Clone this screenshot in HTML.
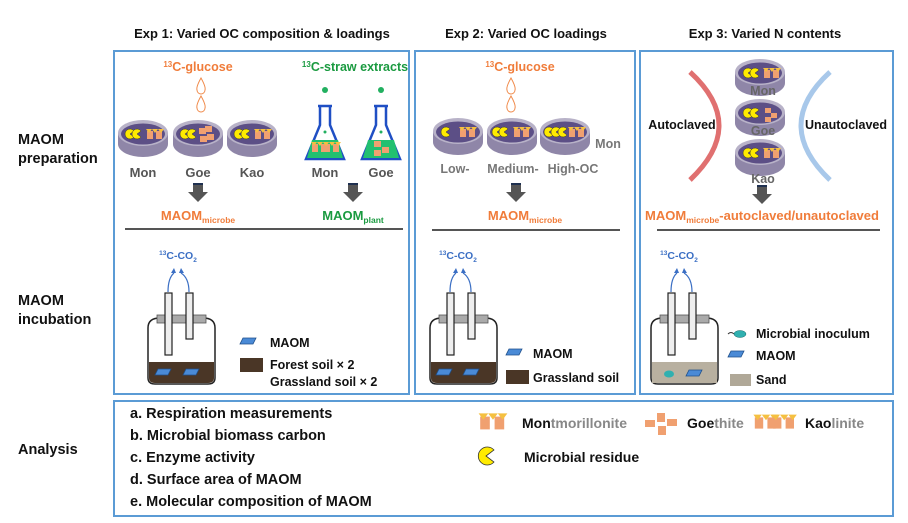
<!DOCTYPE html>
<html><head><meta charset="utf-8"><style>
body{margin:0;background:#fff}
svg{display:block;font-family:"Liberation Sans",Arial,sans-serif;font-weight:bold}
</style></head><body>
<svg width="908" height="523" viewBox="0 0 908 523" xmlns="http://www.w3.org/2000/svg">
<defs>
  <g id="dish">
    <path d="M-25,0 L-25,11 A25,13 0 0 0 25,11 L25,0 Z" fill="#8f86a8"/>
    <ellipse cx="0" cy="0" rx="25" ry="13" fill="#b8b2c8"/>
    <ellipse cx="0" cy="1" rx="22" ry="10.5" fill="#5c4f86"/>
  </g>
  <g id="pac"><path d="M0,0 L4,-3 A5,5 0 1 0 4,3 Z" fill="#ffeb00" stroke="#333" stroke-width="0.5"/></g>
  <g id="clay">
    <rect x="-8" y="-4" width="6" height="8" fill="#f0a070"/><rect x="1" y="-4" width="6" height="8" fill="#f0a070"/>
    <path d="M-9,-6 l3,4 l3,-4 M-3,-6 l3,4 l3,-4 M3,-6 l3,4 l3,-4" fill="#f5c040"/>
  </g>
  <g id="jar">
    <path d="M0,12 Q0,2 12,2 L55,2 Q67,2 67,12 L67,62 Q67,68 60,68 L7,68 Q0,68 0,62 Z" fill="#fff" stroke="#222" stroke-width="1.5"/>
    <path d="M1,46 L66,46 L66,62 Q66,67 60,67 L7,67 Q1,67 1,62 Z" fill="#4a3626"/>
    <rect x="9" y="-1" width="49" height="8" fill="#aaa" stroke="#555" stroke-width="0.8"/>
    <rect x="17" y="-23" width="7" height="62" fill="#eee" stroke="#222" stroke-width="1.2"/>
    <rect x="38" y="-23" width="7" height="46" fill="#eee" stroke="#222" stroke-width="1.2"/>
    <path d="M20,-24 Q20,-38 26,-43 M41,-24 Q41,-38 33,-43" fill="none" stroke="#3b6fc4" stroke-width="1.2"/>
    <path d="M26,-48 l-3,5 l5,0 Z M33,-48 l-2,5 l5,0 Z" fill="#3b6fc4"/>
  </g>
  <g id="maom"><path d="M3,0 L16,0 L13,6 L0,6 Z" fill="#4a8ad6" stroke="#1f4f8a" stroke-width="0.8"/></g>
  <g id="arrow"><rect x="-5" y="0" width="10" height="9" fill="#555"/><rect x="-5" y="0" width="10" height="2" fill="#1f3050"/><path d="M-10,9 L10,9 L0,19 Z" fill="#555"/></g>
  <g id="drop"><path d="M0,0 Q-5,9 -4,12 A4,4 0 0 0 4,12 Q5,9 0,0 Z" fill="none" stroke="#f08a4a" stroke-width="1"/></g>
</defs>

<!-- titles -->
<text x="262" y="38" font-size="13" text-anchor="middle" fill="#111">Exp 1: Varied OC composition &amp; loadings</text>
<text x="526" y="38" font-size="13" text-anchor="middle" fill="#111">Exp 2: Varied OC loadings</text>
<text x="765" y="38" font-size="13" text-anchor="middle" fill="#111">Exp 3: Varied N contents</text>
<text x="18" y="144" font-size="14.5" fill="#111">MAOM</text>
<text x="18" y="163" font-size="14.5" fill="#111">preparation</text>
<text x="18" y="305" font-size="14.5" fill="#111">MAOM</text>
<text x="18" y="324" font-size="14.5" fill="#111">incubation</text>
<text x="18" y="454" font-size="14.5" fill="#111">Analysis</text>

<!-- boxes -->
<g fill="none" stroke="#5b9bd5" stroke-width="2">
<rect x="114" y="51" width="295" height="343"/>
<rect x="415" y="51" width="220" height="343"/>
<rect x="640" y="51" width="253" height="343"/>
<rect x="114" y="401" width="779" height="115"/>
</g>

<!-- Exp1 -->
<text x="198" y="71" font-size="12.5" text-anchor="middle" fill="#f07c3a"><tspan font-size="8" dy="-4">13</tspan><tspan dy="4">C-glucose</tspan></text>
<use href="#drop" x="201" y="78"/><use href="#drop" x="201" y="96"/>
<use href="#dish" x="143" y="133"/><use href="#dish" x="198" y="133"/><use href="#dish" x="252" y="133"/>
<use href="#pac" x="130" y="134"/><use href="#pac" x="137" y="134"/><use href="#clay" x="155" y="135"/>
<use href="#pac" x="185" y="134"/><use href="#pac" x="192" y="134"/>
<g fill="#f0a070"><rect x="199" y="128" width="7" height="6"/><rect x="207" y="134" width="7" height="6"/><rect x="205" y="126" width="7" height="6"/><rect x="200" y="136" width="7" height="6"/></g>
<use href="#pac" x="239" y="134"/><use href="#pac" x="246" y="134"/><use href="#clay" x="263" y="135"/>
<text x="143" y="177" font-size="13" text-anchor="middle" fill="#555">Mon</text>
<text x="198" y="177" font-size="13" text-anchor="middle" fill="#555">Goe</text>
<text x="252" y="177" font-size="13" text-anchor="middle" fill="#555">Kao</text>
<use href="#arrow" x="198" y="183"/>
<text x="198" y="220" font-size="13" text-anchor="middle" fill="#f07c3a">MAOM<tspan font-size="8.5" dy="3">microbe</tspan></text>

<text x="355" y="71" font-size="12.5" text-anchor="middle" fill="#1a9a40"><tspan font-size="8" dy="-4">13</tspan><tspan dy="4">C-straw extracts</tspan></text>
<circle cx="325" cy="90" r="3" fill="#22b060"/><circle cx="381" cy="90" r="3" fill="#22b060"/>
<g stroke="#1f4fc4" stroke-width="2.5" fill="#fff">
<path d="M318,106 L332,106 M320,106 L320,125 L306,159 L344,159 L330,125 L330,106" fill="#fff"/>
<path d="M374,106 L388,106 M376,106 L376,125 L362,159 L400,159 L386,125 L386,106"/>
</g>
<path d="M312,140 L338,140 L343,158 L307,158 Z" fill="#22c070"/>
<path d="M368,140 L394,140 L399,158 L363,158 Z" fill="#22c070"/>
<circle cx="325" cy="132" r="1.5" fill="#22b060"/><circle cx="381" cy="132" r="1.5" fill="#22b060"/>
<use href="#clay" x="320" y="148"/><use href="#clay" x="332" y="148"/>
<g fill="#f0a070"><rect x="374" y="141" width="7" height="6"/><rect x="382" y="147" width="7" height="6"/><rect x="374" y="150" width="7" height="6"/></g>
<text x="325" y="177" font-size="13" text-anchor="middle" fill="#555">Mon</text>
<text x="381" y="177" font-size="13" text-anchor="middle" fill="#555">Goe</text>
<use href="#arrow" x="353" y="183"/>
<text x="353" y="220" font-size="13" text-anchor="middle" fill="#1a9a40">MAOM<tspan font-size="8.5" dy="3">plant</tspan></text>
<rect x="125" y="228" width="278" height="2" fill="#555"/>

<text x="178" y="259" font-size="10.5" text-anchor="middle" fill="#3b6fc4"><tspan font-size="6.5" dy="-4">13</tspan><tspan dy="4">C-CO</tspan><tspan font-size="6.5" dy="3">2</tspan></text>
<use href="#jar" x="148" y="316"/>
<use href="#maom" x="155" y="369"/><use href="#maom" x="183" y="369"/>
<use href="#maom" x="240" y="338"/>
<text x="270" y="347" font-size="12.5" fill="#111">MAOM</text>
<rect x="240" y="358" width="23" height="14" fill="#4a3626"/>
<text x="270" y="369" font-size="12.5" fill="#111">Forest soil × 2</text>
<text x="270" y="386" font-size="12.5" fill="#111">Grassland soil × 2</text>

<!-- Exp2 -->
<text x="520" y="71" font-size="12.5" text-anchor="middle" fill="#f07c3a"><tspan font-size="8" dy="-4">13</tspan><tspan dy="4">C-glucose</tspan></text>
<use href="#drop" x="511" y="78"/><use href="#drop" x="511" y="96"/>
<use href="#dish" x="458" y="131"/><use href="#dish" x="512" y="131"/><use href="#dish" x="565" y="131"/>
<use href="#pac" x="446" y="132"/><use href="#clay" x="468" y="133"/>
<use href="#pac" x="497" y="132"/><use href="#pac" x="504" y="132"/><use href="#clay" x="522" y="133"/>
<use href="#pac" x="549" y="132"/><use href="#pac" x="556" y="132"/><use href="#pac" x="563" y="132"/><use href="#clay" x="577" y="133"/>
<text x="608" y="148" font-size="12.5" text-anchor="middle" fill="#777">Mon</text>
<text x="455" y="173" font-size="12.5" text-anchor="middle" fill="#777">Low-</text>
<text x="513" y="173" font-size="12.5" text-anchor="middle" fill="#777">Medium-</text>
<text x="573" y="173" font-size="12.5" text-anchor="middle" fill="#777">High-OC</text>
<use href="#arrow" x="516" y="183"/>
<text x="525" y="220" font-size="13" text-anchor="middle" fill="#f07c3a">MAOM<tspan font-size="8.5" dy="3">microbe</tspan></text>
<rect x="432" y="229" width="188" height="2" fill="#555"/>
<text x="458" y="259" font-size="10.5" text-anchor="middle" fill="#3b6fc4"><tspan font-size="6.5" dy="-4">13</tspan><tspan dy="4">C-CO</tspan><tspan font-size="6.5" dy="3">2</tspan></text>
<use href="#jar" x="430" y="316"/>
<use href="#maom" x="436" y="369"/><use href="#maom" x="463" y="369"/>
<use href="#maom" x="506" y="349"/>
<text x="533" y="358" font-size="12.5" fill="#111">MAOM</text>
<rect x="506" y="370" width="23" height="14" fill="#4a3626"/>
<text x="533" y="382" font-size="12.5" fill="#111">Grassland soil</text>

<!-- Exp3 -->
<path d="M690,72 Q748,125 690,180" fill="none" stroke="#e07070" stroke-width="5"/>
<path d="M830,72 Q772,125 830,180" fill="none" stroke="#a8c8ea" stroke-width="5"/>
<text x="682" y="129" font-size="12.5" text-anchor="middle" fill="#111">Autoclaved</text>
<text x="846" y="129" font-size="12.5" text-anchor="middle" fill="#111">Unautoclaved</text>
<use href="#dish" x="760" y="72"/><use href="#dish" x="760" y="112"/><use href="#dish" x="760" y="152"/>
<use href="#pac" x="748" y="73"/><use href="#pac" x="755" y="73"/><use href="#clay" x="772" y="74"/>
<use href="#pac" x="748" y="113"/><use href="#pac" x="755" y="113"/>
<g fill="#f0a070"><rect x="765" y="108" width="6" height="5"/><rect x="771" y="113" width="6" height="5"/><rect x="765" y="117" width="6" height="5"/></g>
<use href="#pac" x="748" y="153"/><use href="#pac" x="755" y="153"/><use href="#clay" x="772" y="154"/>
<text x="763" y="95" font-size="12.5" text-anchor="middle" fill="#666">Mon</text>
<text x="763" y="135" font-size="12.5" text-anchor="middle" fill="#666">Goe</text>
<text x="763" y="183" font-size="12.5" text-anchor="middle" fill="#666">Kao</text>
<use href="#arrow" x="762" y="185"/>
<text x="762" y="220" font-size="13" text-anchor="middle" fill="#f07c3a">MAOM<tspan font-size="8.5" dy="3">microbe</tspan><tspan dy="-3">-autoclaved/unautoclaved</tspan></text>
<rect x="657" y="229" width="223" height="2" fill="#555"/>
<text x="679" y="259" font-size="10.5" text-anchor="middle" fill="#3b6fc4"><tspan font-size="6.5" dy="-4">13</tspan><tspan dy="4">C-CO</tspan><tspan font-size="6.5" dy="3">2</tspan></text>
<use href="#jar" x="651" y="316"/>
<rect x="652" y="362" width="65" height="21" fill="#b8b0a0"/>
<ellipse cx="669" cy="374" rx="5" ry="3.5" fill="#30b0b0"/>
<use href="#maom" x="686" y="370"/>
<path d="M728,334 q3,-3 6,0" fill="none" stroke="#333" stroke-width="1"/>
<ellipse cx="740" cy="334" rx="6" ry="3.5" fill="#30b0b0" stroke="#1a6a6a" stroke-width="0.5"/>
<text x="756" y="338" font-size="12.5" fill="#111">Microbial inoculum</text>
<use href="#maom" x="728" y="351"/>
<text x="756" y="360" font-size="12.5" fill="#111">MAOM</text>
<rect x="730" y="374" width="21" height="12" fill="#b0a898"/>
<text x="756" y="384" font-size="12.5" fill="#111">Sand</text>

<!-- Analysis -->
<g font-size="14.5" fill="#111">
<text x="130" y="418">a. Respiration measurements</text>
<text x="130" y="440">b. Microbial biomass carbon</text>
<text x="130" y="462">c. Enzyme activity</text>
<text x="130" y="484">d. Surface area of MAOM</text>
<text x="130" y="506">e. Molecular composition of MAOM</text>
</g>
<g transform="translate(493,423) scale(1.6)"><use href="#clay"/></g>
<text x="522" y="428" font-size="14" fill="#111">Mon<tspan fill="#888">tmorillonite</tspan></text>
<g fill="#f0a070"><rect x="657" y="413" width="8" height="9"/><rect x="645" y="420" width="10" height="7"/><rect x="667" y="419" width="10" height="7"/><rect x="658" y="426" width="8" height="9"/></g>
<text x="687" y="428" font-size="14" fill="#111">Goe<tspan fill="#888">thite</tspan></text>
<g transform="translate(766,423) scale(1.4)"><use href="#clay"/><use href="#clay" x="13"/></g>
<text x="805" y="428" font-size="14" fill="#111">Kao<tspan fill="#888">linite</tspan></text>
<path d="M486,456 L494,450 A9,9 0 1 0 494,462 Z" fill="#ffeb00" stroke="#333" stroke-width="0.8"/>
<text x="524" y="462" font-size="14" fill="#111">Microbial residue</text>
</svg>
</body></html>
